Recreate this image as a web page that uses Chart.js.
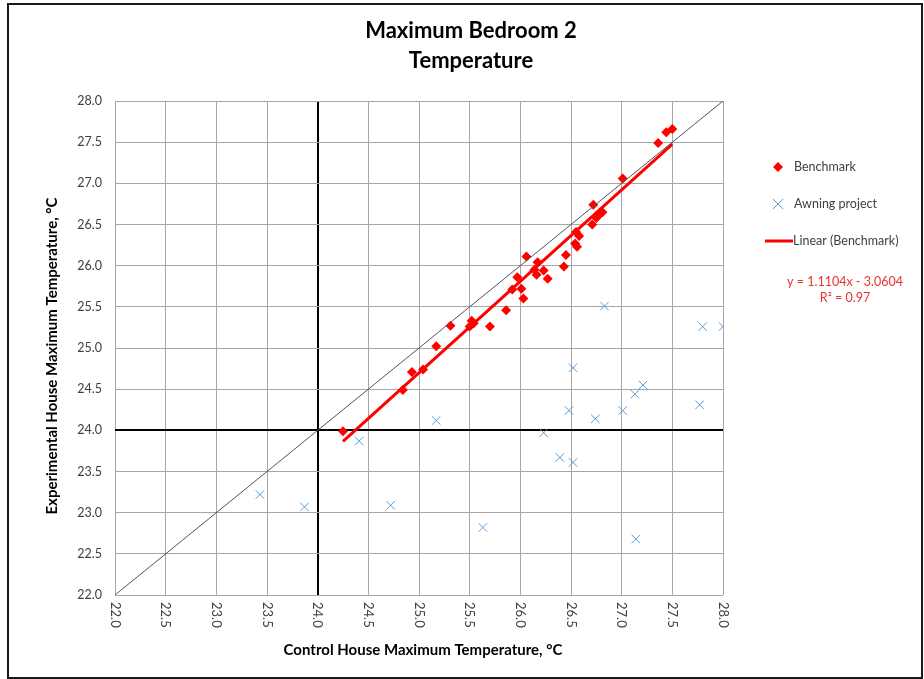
<!DOCTYPE html>
<html lang="en">
  <head>
    <title>Maximum Bedroom 2 Temperature</title>
    <meta charset="utf-8">
    <script type="text/javascript" src="https://cdn.jsdelivr.net/npm/chart.js@4/dist/chart.umd.min.js"></script>
    <style>
      body { margin: 0; background: #fff; }
      #wrap { position: relative; width: 924px; height: 679px; }
    </style>
  </head>
  <body>
    <div id="wrap"><canvas id="chart" width="924" height="679"></canvas></div>

    <script language="javascript" type="text/javascript">

      // Benchmark: control house max temp vs experimental house max temp
      const benchX = [27.36, 27.44, 27.50, 27.01, 26.72, 26.81, 26.77, 26.75, 26.71, 26.55,
                      26.58, 26.54, 26.56, 26.45, 26.43, 26.06, 26.17, 26.14, 26.23, 26.16,
                      26.27, 25.97, 25.92, 26.01, 26.03, 25.86, 25.31, 25.52, 25.54, 25.50,
                      25.70, 25.17, 24.93, 25.04, 24.84, 24.25];
      const benchY = [27.49, 27.62, 27.66, 27.06, 26.74, 26.65, 26.61, 26.58, 26.50, 26.41,
                      26.36, 26.27, 26.23, 26.13, 25.99, 26.11, 26.04, 25.95, 25.94, 25.89,
                      25.84, 25.86, 25.71, 25.72, 25.60, 25.46, 25.27, 25.33, 25.30, 25.26,
                      25.26, 25.02, 24.71, 24.74, 24.49, 23.99];

      // Awning project
      const awnX = [26.83, 27.80, 28.00, 24.41, 23.43, 23.87, 24.72, 25.17, 26.52, 26.48,
                    26.74, 27.01, 27.13, 27.21, 27.77, 26.23, 26.39, 26.52, 25.63, 27.14];
      const awnY = [25.51, 25.26, 25.26, 23.87, 23.22, 23.07, 23.09, 24.12, 24.76, 24.24,
                    24.14, 24.24, 24.44, 24.55, 24.31, 23.97, 23.67, 23.61, 22.82, 22.68];

      // Linear trend (Benchmark), as printed on the chart
      const trendSlope = 1.1104;
      const trendIntercept = -3.0604;
      const trendLabel = ["y = 1.1104x - 3.0604", "R\u00B2 = 0.97"];

      // Axis range and ticks
      const axisMin = 22.0;
      const axisMax = 28.0;
      const axisStep = 0.5;
      const crossAt = 24.0;

      const titleLines = ["Maximum Bedroom 2", "Temperature"];
      const xTitle = "Control House Maximum Temperature, \u00B0C";
      const yTitle = "Experimental House Maximum Temperature, \u00B0C";
      const legendLabels = ["Benchmark", "Awning project", "Linear (Benchmark)"];

      const RED = "#ff0000";
      const BLUE = "#5b9bd5";
      const GRID = "#a6a6a6";
      const TEXT = "#404040";
      const FONT = "Lato, 'Open Sans', sans-serif";

      const bench = benchX.map((x, i) => ({x: x, y: benchY[i]}));
      const awn = awnX.map((x, i) => ({x: x, y: awnY[i]}));
      const tMin = Math.min(...benchX), tMax = Math.max(...benchX);
      const trend = [
        {x: tMin, y: trendSlope * tMin + trendIntercept},
        {x: tMax, y: trendSlope * tMax + trendIntercept}
      ];
      const diag = [{x: axisMin, y: axisMin}, {x: axisMax, y: axisMax}];

      // Draws frame, titles, rotated x labels, legend and equation
      const decorations = {
        id: "decorations",
        afterDraw(chart) {
          const ctx = chart.ctx;
          const xs = chart.scales.x;
          ctx.save();

          // outer frame
          ctx.strokeStyle = "#1a1a1a";
          ctx.lineWidth = 2;
          ctx.strokeRect(8, 4, 914, 674);

          // title
          ctx.fillStyle = "#000";
          ctx.textAlign = "center";
          ctx.textBaseline = "middle";
          ctx.font = "bold 22px " + FONT;
          ctx.fillText(titleLines[0], 471, 31);
          ctx.fillText(titleLines[1], 471, 61);

          // x tick labels, rotated clockwise
          ctx.font = "13px " + FONT;
          ctx.fillStyle = TEXT;
          for (let v = axisMin; v <= axisMax + 1e-9; v += axisStep) {
            const px = xs.getPixelForValue(v);
            ctx.save();
            ctx.translate(px, xs.top + 7);
            ctx.rotate(Math.PI / 2);
            ctx.textAlign = "left";
            ctx.textBaseline = "middle";
            ctx.fillText(v.toFixed(1), 0, 0);
            ctx.restore();
          }

          // axis titles
          ctx.fillStyle = "#000";
          ctx.font = "bold 15px " + FONT;
          ctx.textAlign = "center";
          ctx.fillText(xTitle, 423, 650);
          ctx.save();
          ctx.translate(52, 356);
          ctx.rotate(-Math.PI / 2);
          ctx.fillText(yTitle, 0, 0);
          ctx.restore();

          // legend
          ctx.font = "12.5px " + FONT;
          ctx.textAlign = "left";
          ctx.fillStyle = RED;
          ctx.beginPath();
          ctx.moveTo(778, 162); ctx.lineTo(783, 167); ctx.lineTo(778, 172); ctx.lineTo(773, 167);
          ctx.closePath(); ctx.fill();
          ctx.strokeStyle = BLUE; ctx.lineWidth = 1;
          ctx.beginPath();
          ctx.moveTo(773, 199); ctx.lineTo(783, 209);
          ctx.moveTo(783, 199); ctx.lineTo(773, 209);
          ctx.stroke();
          ctx.strokeStyle = RED; ctx.lineWidth = 3;
          ctx.beginPath(); ctx.moveTo(765, 241); ctx.lineTo(793, 241); ctx.stroke();
          ctx.fillStyle = TEXT;
          ctx.fillText(legendLabels[0], 794, 167);
          ctx.fillText(legendLabels[1], 794, 204);
          ctx.fillText(legendLabels[2], 793, 241);

          // trend equation
          ctx.fillStyle = "#e8322d";
          ctx.textAlign = "center";
          ctx.fillText(trendLabel[0], 845, 282);
          ctx.fillText(trendLabel[1], 845, 298);

          ctx.restore();
        }
      };

      const gridColor = c => Math.abs(c.tick.value - crossAt) < 1e-6 ? "#000" : GRID;
      const gridWidth = c => Math.abs(c.tick.value - crossAt) < 1e-6 ? 2 : 1;

      chart = new Chart("chart", {
        type: "scatter",
        data: {
          datasets: [
            {
              // dataset[0] y = x reference line
              data: diag,
              showLine: true,
              borderColor: "#555",
              borderWidth: 1,
              pointRadius: 0
            },
            {
              // dataset[1] Benchmark diamonds
              data: bench,
              pointStyle: "rectRot",
              pointRadius: 5,
              backgroundColor: RED,
              borderColor: RED,
              borderWidth: 0
            },
            {
              // dataset[2] Awning project crosses
              data: awn,
              pointStyle: "crossRot",
              pointRadius: 6,
              borderColor: BLUE,
              borderWidth: 1
            },
            {
              // dataset[3] Linear (Benchmark)
              data: trend,
              showLine: true,
              borderColor: RED,
              borderWidth: 3,
              pointRadius: 0
            }
          ]
        },
        options: {
          responsive: false,
          animation: false,
          layout: {padding: {left: 0, top: 101, right: 201, bottom: 0}},
          plugins: {legend: {display: false}, tooltip: {enabled: false}},
          scales: {
            x: {
              type: "linear",
              min: axisMin,
              max: axisMax,
              afterFit: s => { s.height = 84; },
              ticks: {display: false, stepSize: axisStep},
              grid: {color: gridColor, lineWidth: gridWidth, drawTicks: false},
              border: {display: false}
            },
            y: {
              type: "linear",
              min: axisMin,
              max: axisMax,
              afterFit: s => { s.width = 115; },
              ticks: {
                stepSize: axisStep,
                padding: 13,
                color: TEXT,
                font: {family: FONT, size: 12.5},
                callback: v => v.toFixed(1)
              },
              grid: {color: gridColor, lineWidth: gridWidth, drawTicks: false},
              border: {display: false}
            }
          }
        },
        plugins: [decorations]
      });
    </script>
  </body>
</html>
